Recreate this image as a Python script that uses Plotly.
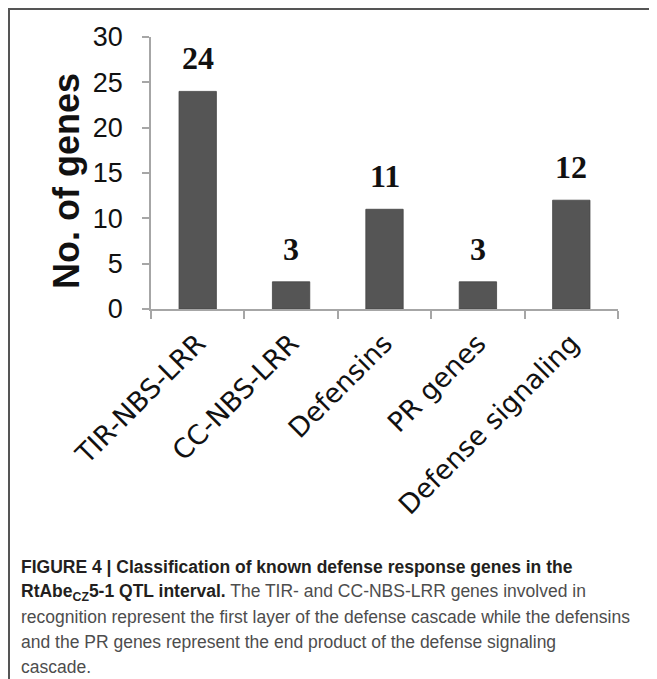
import plotly.graph_objects as go

categories = ["TIR-NBS-LRR", "CC-NBS-LRR", "Defensins", "PR genes", "Defense signaling"]
gene_counts = [24, 3, 11, 3, 12]
y_ticks = [0, 5, 10, 15, 20, 25, 30]
y_title = "No. of genes"

caption_lines = [
    "<b><span style='color:#231f20'>FIGURE 4 | Classification of known defense response genes in the</span></b>",
    "<b><span style='color:#231f20'>RtAbe<sub>CZ</sub>5-1 QTL interval.</span></b> The TIR- and CC-NBS-LRR genes involved in",
    "recognition represent the first layer of the defense cascade while the defensins",
    "and the PR genes represent the end product of the defense signaling",
    "cascade.",
]

# page body has an 8px margin, so pixel targets are shifted by OFF
OFF = 8
W, H = 657 - OFF, 679 - OFF
L, R, T, B = 151 - OFF, 39, 37 - OFF, 370
PW, PH = W - L - R, H - T - B


def px2x(px):
    return (px - OFF - L) / PW


def px2y(py):
    return 1 - (py - OFF - T) / PH


fig = go.Figure()
fig.add_trace(go.Bar(
    x=categories, y=gene_counts,
    marker=dict(color="#555555", line=dict(color="#444444", width=0.8)),
    width=0.4, hoverinfo="skip",
))

for c, v in zip(categories, gene_counts):
    fig.add_annotation(
        x=c, y=v, xref="x", yref="y", text=f"<b>{v}</b>", showarrow=False,
        yanchor="bottom", yshift=13,
        font=dict(family="Liberation Serif", size=32, color="#111111"),
    )

# y-axis title placed precisely
fig.add_annotation(
    x=px2x(66), y=px2y(181), xref="paper", yref="paper",
    text=f"<b>{y_title}</b>", textangle=-90, showarrow=False,
    xanchor="center", yanchor="middle",
    font=dict(family="Liberation Sans", size=36, color="#111111"),
)

cap_y = [567, 592, 617, 642, 667]
for txt, cy in zip(caption_lines, cap_y):
    fig.add_annotation(
        x=px2x(19), y=px2y(cy), xref="paper", yref="paper", text=txt,
        showarrow=False, xanchor="left", yanchor="middle", align="left",
        font=dict(family="Liberation Sans", size=17.5, color="#4d4d4d"),
    )

# frame lines
fig.add_shape(type="line", xref="paper", yref="paper",
              x0=px2x(8), x1=px2x(660), y0=px2y(9), y1=px2y(9),
              line=dict(color="#555555", width=2))
fig.add_shape(type="line", xref="paper", yref="paper",
              x0=px2x(9), x1=px2x(9), y0=px2y(9), y1=px2y(690),
              line=dict(color="#555555", width=2))

fig.update_layout(
    width=W, height=H,
    margin=dict(l=L, r=R, t=T, b=B, autoexpand=False),
    paper_bgcolor="white", plot_bgcolor="white",
    showlegend=False, bargap=0.6,
    xaxis=dict(
        type="category", tickangle=-45, showgrid=False,
        showline=True, linecolor="#a6a6a6", linewidth=1.5,
        ticks="outside", tickson="boundaries", ticklen=8, tickcolor="#a6a6a6", tickwidth=1.5,
        tickfont=dict(family="DejaVu Sans", size=27, color="#111111"),
        ticklabelstandoff=6,
    ),
    yaxis=dict(
        range=[0, 30], tickvals=y_ticks, showgrid=False, zeroline=False,
        showline=True, linecolor="#a6a6a6", linewidth=1.5,
        ticks="outside", ticklen=7, tickcolor="#a6a6a6", tickwidth=1.5,
        tickfont=dict(family="Liberation Sans", size=27, color="#111111"),
        ticklabelstandoff=14,
    ),
)

fig.write_html("out.html")
